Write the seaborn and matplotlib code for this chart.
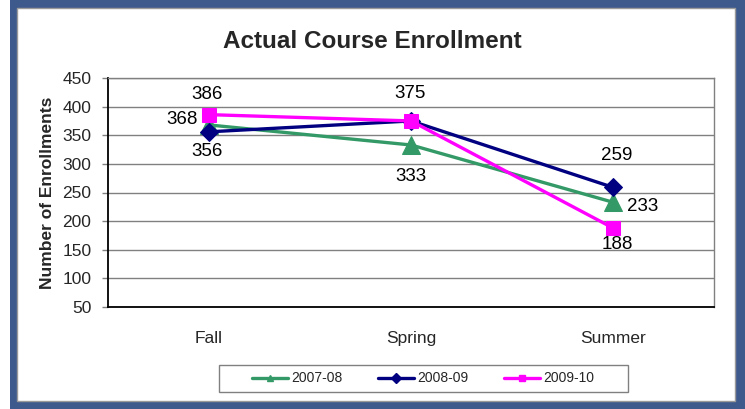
import matplotlib
matplotlib.use("Agg")
import matplotlib.pyplot as plt
import seaborn as sns
import pandas as pd
from matplotlib.patches import Rectangle
from matplotlib.lines import Line2D

# chart data
terms = ["Fall", "Spring", "Summer"]
years = ["2007-08", "2008-09", "2009-10"]
enroll_0708 = [368, 333, 233]
enroll_0809 = [356, 375, 259]
enroll_0910 = [386, 375, 188]
y_ticks = [50, 100, 150, 200, 250, 300, 350, 400, 450]

# styling per series
colors = ["#339966", "#000080", "#FF00FF"]
markers = ["^", "D", "s"]
msizes = [13, 9, 10]
# data-label offsets (pixels) for each series / term
label_offsets = [
    [(-27, 5), (0, -32), (30, -4)],
    [(-2, -20), (-1, 27), (4, 32)],
    [(-2, 20), (-1, 27), (4, -17)],
]

W, H = 745, 409
sns.set_style("white")
plt.rcParams["font.family"] = ["Liberation Sans", "DejaVu Sans"]

fig = plt.figure(figsize=(W / 100, H / 100), dpi=100)
fig.patch.set_facecolor("white")
# blue outer frame with white inner panel
fig.patches.append(Rectangle((10 / W, 0), 1 - 10 / W, 1, transform=fig.transFigure,
                             facecolor="#3E5A8C", edgecolor="none", zorder=-2))
fig.patches.append(Rectangle((17 / W, 8 / H), (735 - 17) / W, (401 - 8) / H,
                             transform=fig.transFigure, facecolor="white",
                             edgecolor="#9a9a9a", linewidth=1, zorder=-1))

ax = fig.add_axes([108 / W, 1 - 307 / H, (714 - 108) / W, (307 - 78) / H])
ax.set_facecolor("none")

df = pd.DataFrame({
    "term": terms * 3,
    "x": list(range(len(terms))) * 3,
    "year": [y for y in years for _ in terms],
    "value": enroll_0708 + enroll_0809 + enroll_0910,
})

drawn = set()
for i, yr in enumerate(years):
    sub = df[df["year"] == yr]
    sns.lineplot(data=sub, x="x", y="value", ax=ax, color=colors[i],
                 marker=markers[i], markersize=msizes[i], markeredgecolor=colors[i],
                 linewidth=2.4, legend=False, zorder=3 + i)
    for j, (xv, v) in enumerate(zip(sub["x"], sub["value"])):
        dx, dy = label_offsets[i][j]
        # identical labels at the same spot only need drawing once
        if (xv, v, dx, dy) in drawn:
            continue
        drawn.add((xv, v, dx, dy))
        ax.annotate(str(v), (xv, v), xytext=(dx, dy), textcoords="offset pixels",
                    ha="center", va="center", fontsize=13.5, color="black", zorder=10)

ax.set_xlim(-0.5, len(terms) - 0.5)
ax.set_ylim(y_ticks[0], y_ticks[-1])
ax.set_yticks(y_ticks)
ax.set_xticks(range(len(terms)))
ax.set_xticklabels(terms, fontsize=12.5)
ax.set_xticks([k - 0.5 for k in range(len(terms) + 1)], minor=True)
ax.tick_params(axis="x", which="major", length=0, pad=17)
ax.tick_params(axis="x", which="minor", length=4, width=1, color="#808080", direction="out")
ax.tick_params(axis="y", which="major", length=4, width=1, color="#808080",
               direction="out", labelsize=12.5, pad=8, left=True)
ax.set_xlabel("")
ax.set_ylabel("Number of Enrollments", fontsize=12.5, fontweight="bold")
ax.yaxis.set_label_coords(55 / W, 0.5 * (1 - 307 / H + 1 - 78 / H), transform=fig.transFigure)
ax.grid(axis="y", color="#808080", linewidth=1)
ax.set_axisbelow(True)
for side in ["left", "bottom"]:
    ax.spines[side].set_color("black")
    ax.spines[side].set_linewidth(1.3)
for side in ["top", "right"]:
    ax.spines[side].set_color("#808080")
    ax.spines[side].set_linewidth(1)

fig.text(0.5, 1 - 42 / H, "Actual Course Enrollment", ha="center", va="center",
         fontsize=17.5, fontweight="bold")

# legend with a separate box
handles = [Line2D([0], [0], color=colors[i], marker=markers[i], markersize=5,
                  linewidth=2.4) for i in range(3)]
fig.legend(handles, years, loc="center", bbox_to_anchor=(423 / W, 1 - 378.5 / H),
           ncol=3, frameon=False, fontsize=10, handlelength=2.6, handletextpad=0.2,
           columnspacing=2.6)
fig.patches.append(Rectangle((219 / W, 1 - 392 / H), (628 - 219) / W, 27 / H,
                             transform=fig.transFigure, facecolor="none",
                             edgecolor="#808080", linewidth=1))

fig.savefig("out.png", dpi=100)
plt.close(fig)
